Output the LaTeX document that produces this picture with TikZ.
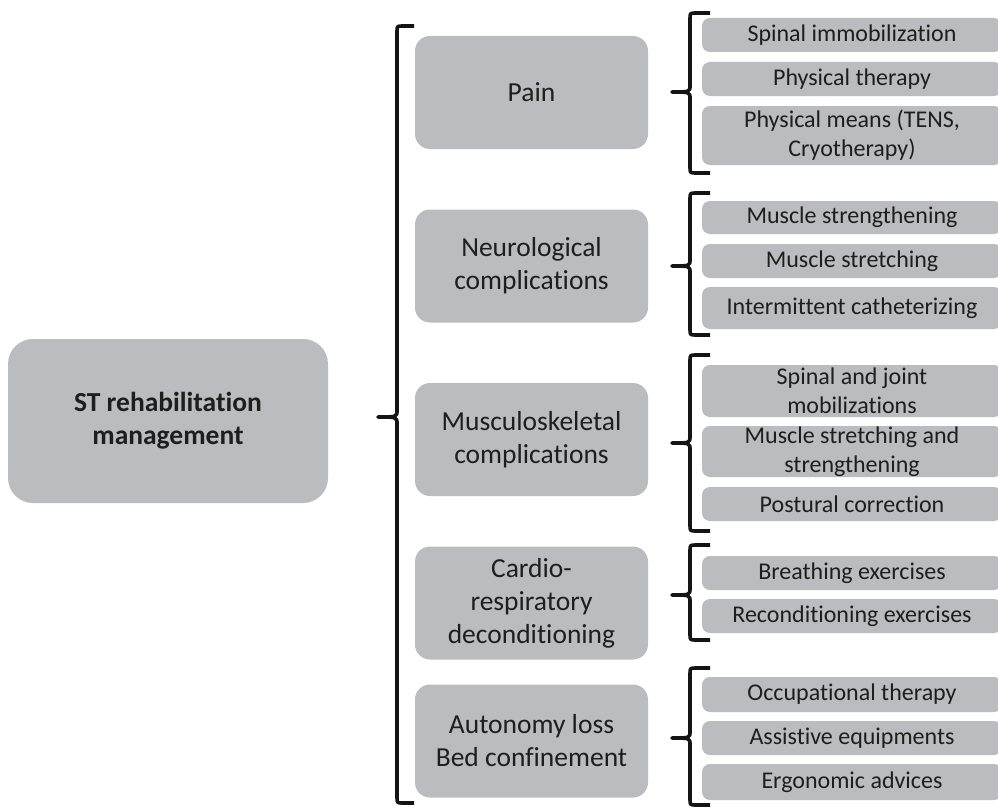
\documentclass[tikz,border=0pt]{standalone}
\usepackage{fontspec}
\setmainfont{Carlito}[Ligatures={NoCommon,NoRare,NoContextual}]
\definecolor{boxgray}{RGB}{187,188,191}
\definecolor{txt}{RGB}{30,30,30}
\definecolor{brc}{RGB}{20,20,20}
\newcommand{\mybrace}[6]{%
  \draw[bracestyle] (#3,#4) -- ({#1+6},#4) .. controls (#1,#4) .. (#1,{#4+6})
     -- (#1,{#5-7}) .. controls (#1,#5) .. (#2,#5)
     .. controls (#1,#5) .. (#1,{#5+7})
     -- (#1,{#6-6}) .. controls (#1,#6) .. ({#1+6},#6) -- (#3,#6);}
\begin{document}
\begin{tikzpicture}[x=1pt,y=-1pt,
  mainbox/.style={fill=boxgray,rounded corners=25pt,minimum width=320pt,minimum height=164pt,
    text=txt,align=center,font=\fontsize{27.5}{33}\selectfont\bfseries,inner sep=0pt},
  catbox/.style={fill=boxgray,rounded corners=15pt,minimum width=233pt,minimum height=113pt,
    text=txt,align=center,font=\fontsize{27.5}{33}\selectfont,inner sep=0pt},
  itembox/.style={fill=boxgray,rounded corners=8pt,minimum width=300pt,
    text=txt,align=center,font=\fontsize{24}{29}\selectfont,inner sep=0pt},
  bracestyle/.style={draw=brc,line width=3.6pt,line cap=butt,line join=round}]
\useasboundingbox (0,0) rectangle (998,808);
\clip (0,0) rectangle (998,808);
\fill[white] (0,0) rectangle (998,808);

\node[mainbox] (main) at (168,421) {ST rehabilitation\\management};

\node[catbox] (pain) at (531.5,92.5) {Pain};
\node[catbox] (neuro) at (531.5,266) {Neurological\\complications};
\node[catbox] (musc) at (531.5,439.5) {Musculoskeletal\\complications};
\node[catbox] (cardio) at (531.5,603) {Cardio-\\respiratory\\deconditioning};
\node[catbox] (auto) at (531.5,741) {Autonomy loss\\Bed confinement};

\node[itembox,minimum height=34pt] (p1) at (852,35) {Spinal immobilization};
\node[itembox,minimum height=34pt] (p2) at (852,79) {Physical therapy};
\node[itembox,minimum height=59pt] (p3) at (852,135.5) {Physical means (TENS,\\Cryotherapy)};

\node[itembox,minimum height=33pt] (n1) at (852,217.5) {Muscle strengthening};
\node[itembox,minimum height=34pt] (n2) at (852,261) {Muscle stretching};
\node[itembox,minimum height=42pt] (n3) at (852,308) {Intermittent catheterizing};

\node[itembox,minimum height=52pt] (m1) at (852,391) {Spinal and joint\\mobilizations};
\node[itembox,minimum height=51pt] (m2) at (852,451.5) {Muscle stretching and\\strengthening};
\node[itembox,minimum height=34pt] (m3) at (852,504) {Postural correction};

\node[itembox,minimum height=34pt] (c1) at (852,573) {Breathing exercises};
\node[itembox,minimum height=34pt] (c2) at (852,616) {Reconditioning exercises};

\node[itembox,minimum height=35pt] (a1) at (852,694.5) {Occupational therapy};
\node[itembox,minimum height=34pt] (a2) at (852,738) {Assistive equipments};
\node[itembox,minimum height=36pt] (a3) at (852,782) {Ergonomic advices};

% big brace
\mybrace{397}{378}{414}{26}{417}{803}
% small braces
\mybrace{690}{672}{710}{13}{92}{173}
\mybrace{690}{672}{710}{193}{266}{335}
\mybrace{690}{672}{710}{355}{443}{531}
\mybrace{690}{672}{710}{545}{595}{640}
\mybrace{690}{672}{710}{668}{738}{805}
\end{tikzpicture}
\end{document}
